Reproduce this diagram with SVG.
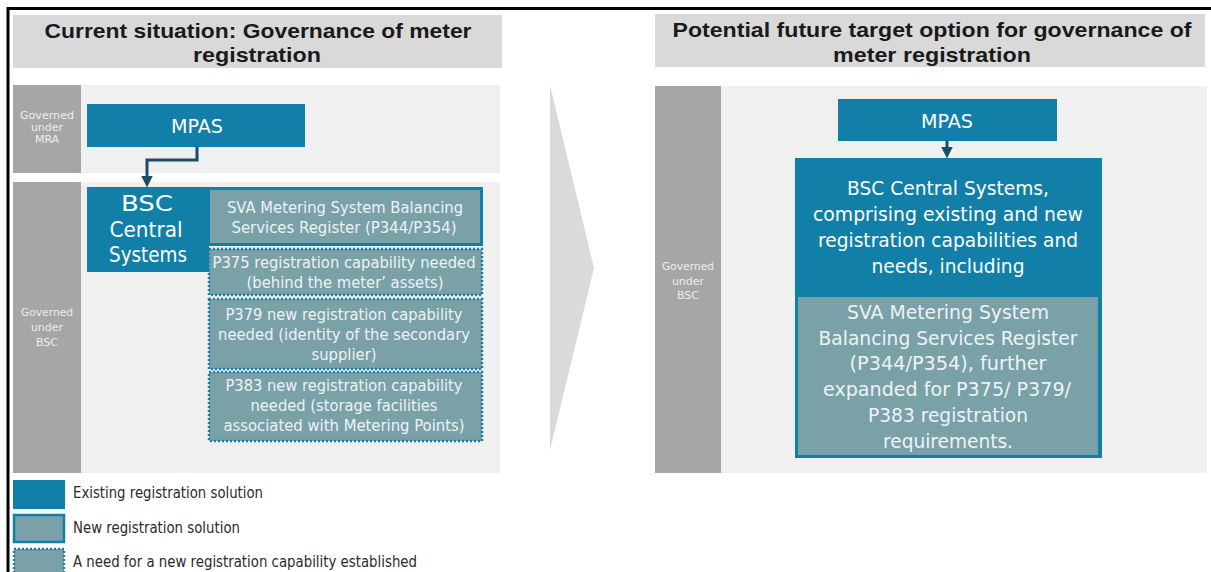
<svg xmlns="http://www.w3.org/2000/svg" width="1211" height="572" viewBox="0 0 1211 572">
  <defs>
    <style>
      .t { font-family: "DejaVu Sans", "Liberation Sans", sans-serif; }
      .title { font-family: "Liberation Sans", Arial, sans-serif; font-size: 20.5px; font-weight: bold; fill: #1a1a1a; text-anchor: middle; }
      .hdr { fill: #d9d9d9; }
      .band { fill: #f0f0f0; }
      .gov { fill: #a6a6a6; }
      .govtxt { font-size: 11px; fill: #ececec; text-anchor: middle; }
      .blue { fill: #117fa7; }
      .teal { fill: #7aa0a8; }
      .wt { fill: #ffffff; text-anchor: middle; }
      .lt { fill: #eef3f4; text-anchor: middle; }
      .dotted { fill: #7aa0a8; stroke: #1780ad; stroke-width: 2.5; stroke-dasharray: 2 2; }
      .leg { font-size: 15.5px; fill: #2b2b2b; }
      .conn { fill: none; stroke: #1e4d6b; stroke-width: 3; }
    </style>
    <marker id="arrow" markerWidth="4" markerHeight="4" refX="1.5" refY="2" orient="auto" markerUnits="strokeWidth">
      <path d="M0,0 L4,2 L0,4 Z" fill="#1e4d6b"/>
    </marker>
  </defs>

  <rect x="0" y="0" width="1211" height="572" fill="#ffffff"/>
  <!-- frame lines -->
  <path d="M8,572 V8.5 H1211" fill="none" stroke="#000000" stroke-width="3"/>

  <!-- left: current situation -->
  <g id="header-current">
    <rect class="hdr" x="13" y="15" width="489" height="53"/>
    <text class="title" x="258" y="38" textLength="427" lengthAdjust="spacingAndGlyphs">Current situation: Governance of meter</text>
    <text class="title" x="257" y="62" textLength="128" lengthAdjust="spacingAndGlyphs">registration</text>
  </g>

  <g id="band-mra">
    <rect class="band" x="13" y="85" width="487" height="88"/>
    <rect class="gov" x="13" y="85" width="68" height="88"/>
    <text class="t govtxt" x="47" y="119" textLength="54" lengthAdjust="spacingAndGlyphs">Governed</text>
    <text class="t govtxt" x="47" y="131">under</text>
    <text class="t govtxt" x="47" y="143">MRA</text>
  </g>

  <g id="band-bsc-left">
    <rect class="band" x="13" y="182" width="487" height="291"/>
    <rect class="gov" x="13" y="182" width="68" height="291"/>
    <text class="t govtxt" x="47" y="316" textLength="52" lengthAdjust="spacingAndGlyphs">Governed</text>
    <text class="t govtxt" x="47" y="331">under</text>
    <text class="t govtxt" x="47" y="346">BSC</text>
  </g>

  <g id="node-mpas-left">
    <rect class="blue" x="87" y="104" width="218" height="43"/>
    <text class="t wt" x="197" y="133" font-size="19.5" textLength="52" lengthAdjust="spacingAndGlyphs">MPAS</text>
  </g>

  <g id="node-bsc-left">
    <rect class="blue" x="87" y="187" width="396" height="59"/>
    <rect class="blue" x="87" y="187" width="122" height="85"/>
    <text class="t wt" x="147" y="211" font-size="20.5" textLength="52" lengthAdjust="spacingAndGlyphs">BSC</text>
    <text class="t wt" x="146" y="237" font-size="20.5" textLength="73" lengthAdjust="spacingAndGlyphs">Central</text>
    <text class="t wt" x="148" y="262" font-size="20.5" textLength="78" lengthAdjust="spacingAndGlyphs">Systems</text>
  </g>

  <g id="node-sva-left">
    <rect class="teal" x="210" y="190" width="270" height="53"/>
    <text class="t lt" x="345" y="213" font-size="16.5" textLength="236" lengthAdjust="spacingAndGlyphs">SVA Metering System Balancing</text>
    <text class="t lt" x="344" y="233" font-size="16.5" textLength="225" lengthAdjust="spacingAndGlyphs">Services Register (P344/P354)</text>
  </g>

  <g id="node-p375">
    <rect class="dotted" x="209" y="249" width="273" height="46"/>
    <text class="t lt" x="344" y="268" font-size="16.5" textLength="263" lengthAdjust="spacingAndGlyphs">P375 registration capability needed</text>
    <text class="t lt" x="345" y="288" font-size="16.5" textLength="197" lengthAdjust="spacingAndGlyphs">(behind the meter’ assets)</text>
  </g>

  <g id="node-p379">
    <rect class="dotted" x="209" y="299" width="273" height="70"/>
    <text class="t lt" x="344" y="320" font-size="16.5" textLength="237" lengthAdjust="spacingAndGlyphs">P379 new registration capability</text>
    <text class="t lt" x="344" y="340" font-size="16.5" textLength="252" lengthAdjust="spacingAndGlyphs">needed (identity of the secondary</text>
    <text class="t lt" x="344" y="360" font-size="16.5" textLength="65" lengthAdjust="spacingAndGlyphs">supplier)</text>
  </g>

  <g id="node-p383">
    <rect class="dotted" x="209" y="372" width="273" height="69"/>
    <text class="t lt" x="344" y="391" font-size="16.5" textLength="237" lengthAdjust="spacingAndGlyphs">P383 new registration capability</text>
    <text class="t lt" x="344" y="411" font-size="16.5" textLength="187" lengthAdjust="spacingAndGlyphs">needed (storage facilities</text>
    <text class="t lt" x="344" y="431" font-size="16.5" textLength="241" lengthAdjust="spacingAndGlyphs">associated with Metering Points)</text>
  </g>

  <g id="legend">
    <rect class="blue" x="13" y="480" width="52" height="29"/>
    <text class="t leg" x="73" y="498" textLength="190" lengthAdjust="spacingAndGlyphs">Existing registration solution</text>
    <rect x="14" y="515" width="50" height="27" fill="#7aa0a8" stroke="#117fa7" stroke-width="2.5"/>
    <text class="t leg" x="73" y="533" textLength="167" lengthAdjust="spacingAndGlyphs">New registration solution</text>
    <rect class="dotted" x="14" y="549" width="50" height="30"/>
    <text class="t leg" x="73" y="567" textLength="344" lengthAdjust="spacingAndGlyphs">A need for a new registration capability established</text>
  </g>

  <!-- transition chevron -->
  <g id="chevron">
    <polygon points="550,85 594,268 550,450" fill="#dadada"/>
  </g>

  <!-- right: future target option -->
  <g id="header-future">
    <rect class="hdr" x="655" y="14" width="550" height="53"/>
    <text class="title" x="932" y="37" textLength="519" lengthAdjust="spacingAndGlyphs">Potential future target option for governance of</text>
    <text class="title" x="932" y="62" textLength="198" lengthAdjust="spacingAndGlyphs">meter registration</text>
  </g>

  <g id="band-bsc-right">
    <rect class="band" x="655" y="86" width="552" height="387"/>
    <rect class="gov" x="655" y="86" width="66" height="387"/>
    <text class="t govtxt" x="688" y="270" textLength="52" lengthAdjust="spacingAndGlyphs">Governed</text>
    <text class="t govtxt" x="688" y="285">under</text>
    <text class="t govtxt" x="688" y="299">BSC</text>
  </g>

  <g id="node-mpas-right">
    <rect class="blue" x="838" y="99" width="219" height="42"/>
    <text class="t wt" x="947" y="128" font-size="19.5" textLength="52" lengthAdjust="spacingAndGlyphs">MPAS</text>
  </g>

  <g id="node-bsc-right">
    <rect class="blue" x="795" y="158" width="307" height="300"/>
    <text class="t wt" x="948" y="195" font-size="19.5" textLength="202" lengthAdjust="spacingAndGlyphs">BSC Central Systems,</text>
    <text class="t wt" x="948" y="221" font-size="19.5" textLength="270" lengthAdjust="spacingAndGlyphs">comprising existing and new</text>
    <text class="t wt" x="948" y="247" font-size="19.5" textLength="260" lengthAdjust="spacingAndGlyphs">registration capabilities and</text>
    <text class="t wt" x="948" y="273" font-size="19.5" textLength="153" lengthAdjust="spacingAndGlyphs">needs, including</text>
    <rect class="teal" x="798" y="297" width="300" height="158"/>
    <text class="t lt" x="948" y="319" font-size="19.5" textLength="202" lengthAdjust="spacingAndGlyphs">SVA Metering System</text>
    <text class="t lt" x="948" y="345" font-size="19.5" textLength="259" lengthAdjust="spacingAndGlyphs">Balancing Services Register</text>
    <text class="t lt" x="948" y="370" font-size="19.5" textLength="197" lengthAdjust="spacingAndGlyphs">(P344/P354), further</text>
    <text class="t lt" x="947" y="396" font-size="19.5" textLength="248" lengthAdjust="spacingAndGlyphs">expanded for P375/ P379/</text>
    <text class="t lt" x="948" y="422" font-size="19.5" textLength="160" lengthAdjust="spacingAndGlyphs">P383 registration</text>
    <text class="t lt" x="948" y="448" font-size="19.5" textLength="130" lengthAdjust="spacingAndGlyphs">requirements.</text>
  </g>

  <g id="connectors">
    <path class="conn" d="M197,147 V160 H147 V180" marker-end="url(#arrow)"/>
    <path class="conn" d="M947,141 V151" marker-end="url(#arrow)"/>
  </g>
</svg>
